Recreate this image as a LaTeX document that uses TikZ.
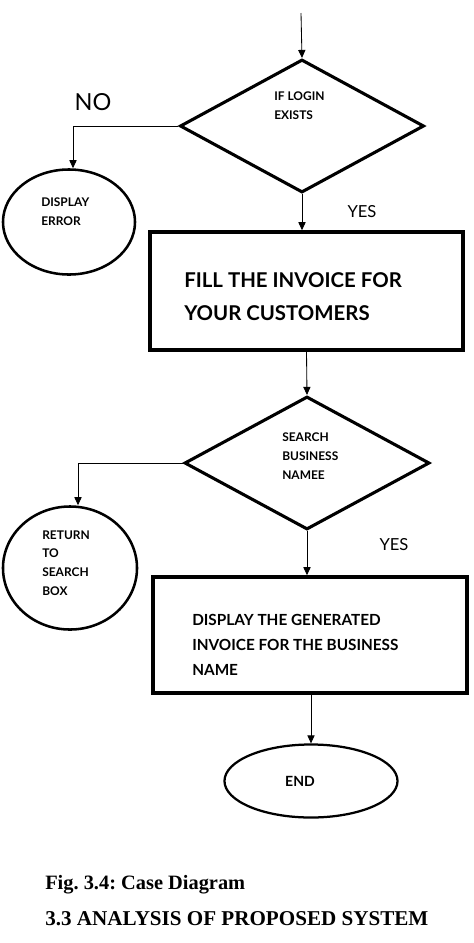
\documentclass[tikz,border=0pt]{standalone}
\usepackage{fontspec}
\setmainfont{Lato}
\newfontfamily\capfont{Liberation Serif}
\usetikzlibrary{arrows.meta, positioning, shapes.geometric}
\frenchspacing

\begin{document}
\begin{tikzpicture}[
    x=0.025cm, y=-0.025cm,
    decision/.style={diamond, draw, line width=2.2pt, inner sep=0pt,
                     minimum width=6.1cm, minimum height=3.325cm},
    procbox/.style={rectangle, draw, line width=2.5pt, inner sep=0pt},
    terminal/.style={ellipse, draw, line width=1.8pt, inner sep=0pt},
    smalltxt/.style={anchor=west, align=left, inner sep=0pt,
                     font=\fontsize{8.5}{13.4}\selectfont\bfseries},
    branch/.style={inner sep=0pt, font=\fontsize{11.8}{14}\selectfont},
    flow/.style={-{Triangle[length=0.2cm, width=0.18cm]}, line width=0.6pt},
  ]
    \useasboundingbox (0,0) rectangle (474,943);

    \coordinate (start) at (301,13);
    \node[decision] (dec1) at (302,126) {};
    \node[smalltxt] (dec1txt) at (274,106) {IF LOGIN\\EXISTS};
    \node[terminal, minimum width=3.3cm, minimum height=2.625cm] (err) at (69,222) {};
    \node[smalltxt] (errtxt) at (41,212) {DISPLAY\\ERROR};
    \node[procbox, minimum width=7.825cm, minimum height=2.95cm] (fill) at (306.5,291) {};
    \node[anchor=west, align=left, inner sep=0pt,
          font=\fontsize{14.5}{23.4}\selectfont\bfseries] (filltxt) at (184,297)
          {FILL THE INVOICE FOR\\YOUR CUSTOMERS};

    \node[decision, minimum width=6.125cm] (dec2) at (307,463) {};
    \node[smalltxt] (dec2txt) at (282,456) {SEARCH\\BUSINESS\\NAMEE};
    \node[terminal, minimum width=3.35cm, minimum height=3.075cm] (ret) at (70,568) {};
    \node[smalltxt] (rettxt) at (42,563) {RETURN\\TO\\SEARCH\\BOX};
    \node[procbox, minimum width=7.85cm, minimum height=2.9cm] (disp) at (310,635) {};
    \node[anchor=west, align=left, inner sep=0pt,
          font=\fontsize{10.9}{17.7}\selectfont\bfseries] (disptxt) at (192,645)
          {DISPLAY THE GENERATED\\INVOICE FOR THE BUSINESS\\NAME};
    \node[terminal, line width=1.6pt, minimum width=4.325cm, minimum height=1.825cm] (finish) at (311,781) {};
    \node[inner sep=0pt, font=\fontsize{10}{12}\selectfont\bfseries] (finishtxt) at (300,781) {END};

    \node[branch, font=\fontsize{16.7}{18}\selectfont] (no1) at (93,102) {NO};
    \node[branch] (yes1) at (362,212) {YES};
    \node[branch] (yes2) at (394,545) {YES};

    \draw[flow] (start) -- (dec1.north);
    \draw[flow] (dec1.west) -| ([xshift=0.1cm]err.north);
    \draw[flow] (dec1.south) -- (dec1.south |- fill.north);
    \draw[flow] (fill.south) -- (dec2.north);
    \draw[flow] (dec2.west) -| ([xshift=0.2cm]ret.north);
    \draw[flow] (dec2.south) -- (dec2.south |- disp.north);
    \draw[flow] (finish.north |- disp.south) -- (finish.north);

    \node[anchor=base west, inner sep=0pt,
          font=\capfont\fontsize{14.5}{16}\selectfont\bfseries] (figcap) at (45,889)
          {Fig. 3.4: Case Diagram};
    \node[anchor=base west, inner sep=0pt,
          font=\capfont\fontsize{15}{16}\selectfont\bfseries] (sechead) at (45,925)
          {3.3 ANALYSIS OF PROPOSED SYSTEM};
  \end{tikzpicture}
\end{document}
